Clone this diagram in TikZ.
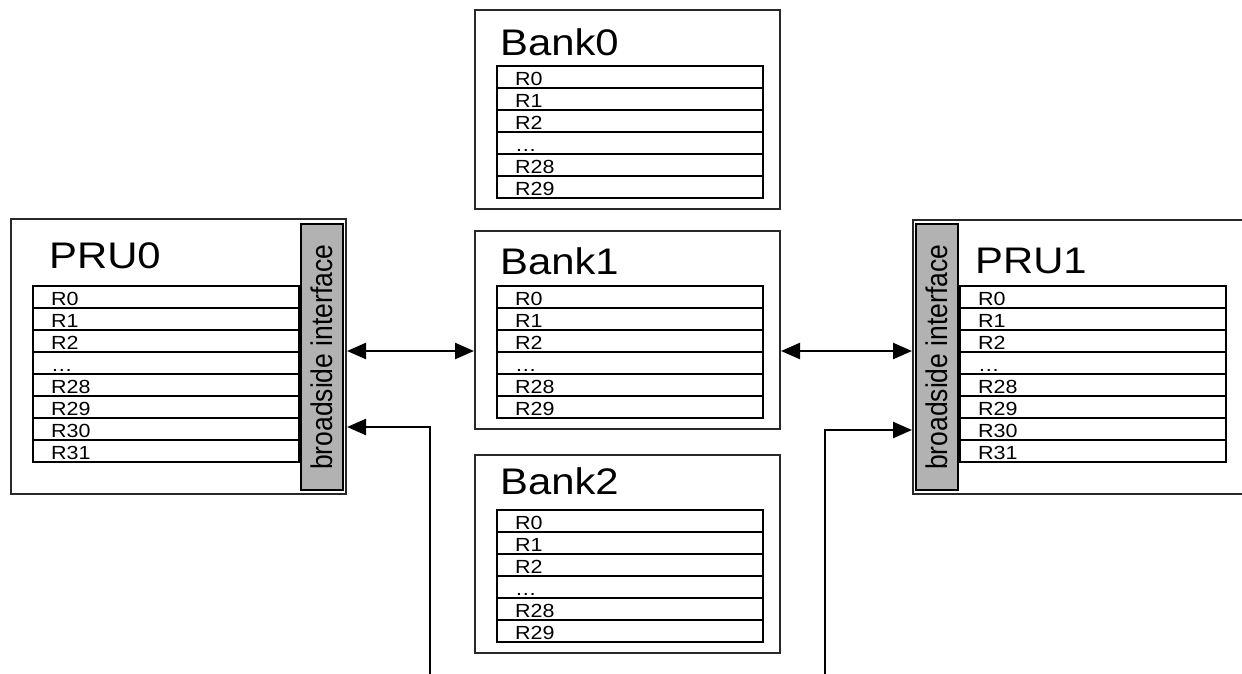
\documentclass[tikz,border=0pt]{standalone}
\usepackage{fontspec}
\usepackage{graphicx}
\setmainfont{Liberation Sans}[FakeStretch=1.13]
\newfontfamily\barfont{Liberation Sans}
\usetikzlibrary{arrows.meta}
\definecolor{bargray}{RGB}{178,178,178}
\definecolor{edgegray}{RGB}{40,40,40}

\tikzset{
  unitbox/.style={draw=edgegray, line width=2pt, rectangle, anchor=north west, inner sep=0pt},
  sidebar/.style={draw, fill=bargray, line width=2.4pt, rectangle, anchor=north west,
    inner sep=0pt, minimum width=42pt, minimum height=266pt},
  regrow/.style={draw, line width=2.4pt, rectangle, anchor=north west,
    minimum height=22pt, text width=230pt, align=left, inner xsep=18pt,
    inner ysep=0pt, text height=17pt, text depth=0pt,
    font=\fontsize{19}{20}\selectfont},
  unittitle/.style={anchor=base west, inner sep=0pt, font=\fontsize{37}{40}\selectfont},
  bartext/.style={rotate=90, inner sep=0pt, font=\barfont\fontsize{26.5}{28}\selectfont},
  biarrow/.style={line width=2.4pt,
    {Triangle[length=19pt,width=16pt]}-{Triangle[length=19pt,width=16pt]}},
  onearrow/.style={line width=2.4pt, -{Triangle[length=19pt,width=16pt]}}
}

% register file: name, left x, top y, list of register labels
\newcommand\regtable[4]{%
  \foreach \lbl [count=\k from 0] in {#4} {
    \node[regrow] (#1-\k) at (#2, #3+22*\k) {\lbl};
  }%
}

\begin{document}
\begin{tikzpicture}[x=1pt, y=-1pt]
  \useasboundingbox (0,0) rectangle (1242,673);
  \clip (0,0) rectangle (1242,673);

  % processing units and scratch-pad banks
  \node[unitbox, minimum width=335pt, minimum height=275pt] (pru0) at (10,218) {};
  \node[unitbox, minimum width=360pt, minimum height=274pt] (pru1) at (912,219) {};
  \node[unitbox, minimum width=305pt, minimum height=199pt] (bank0) at (474,9) {};
  \node[unitbox, minimum width=305pt, minimum height=198pt] (bank1) at (474,230) {};
  \node[unitbox, minimum width=305pt, minimum height=198pt] (bank2) at (474,454) {};

  % broadside interface bars
  \node[sidebar] (pru0bar) at (300,223) {};
  \node[sidebar] (pru1bar) at (915,223) {};
  \node[bartext] (pru0bart) at (pru0bar.center) {\scalebox{1}[1.13]{broadside interface}};
  \node[bartext] (pru1bart) at (pru1bar.center) {\scalebox{1}[1.13]{broadside interface}};

  % titles
  \node[unittitle] (pru0t) at (49,268) {PRU0};
  \node[unittitle] (pru1t) at (975,273) {PRU1};
  \node[unittitle] (bank0t) at (500,55) {Bank0};
  \node[unittitle] (bank1t) at (500,274) {Bank1};
  \node[unittitle] (bank2t) at (500,494) {Bank2};

  % register files
  \regtable{pru0r}{32}{285}{R0,R1,R2,…,R28,R29,R30,R31}
  \regtable{pru1r}{959}{285}{R0,R1,R2,…,R28,R29,R30,R31}
  \regtable{bank0r}{496}{65}{R0,R1,R2,…,R28,R29}
  \regtable{bank1r}{496}{285}{R0,R1,R2,…,R28,R29}
  \regtable{bank2r}{496}{509}{R0,R1,R2,…,R28,R29}

  % connections
  \coordinate (rowA) at (0,351);
  \coordinate (rowB) at (0,427);
  \coordinate (rowC) at (0,430);
  \coordinate (feedL) at (430,680);
  \coordinate (feedR) at (825,680);

  \draw[biarrow] (pru0.east |- rowA) -- (bank1.west |- rowA);
  \draw[biarrow] (bank1.east |- rowA) -- (pru1.west |- rowA);
  \draw[onearrow] (feedL) |- (pru0.east |- rowB);
  \draw[onearrow] (feedR) |- (pru1.west |- rowC);
\end{tikzpicture}
\end{document}
